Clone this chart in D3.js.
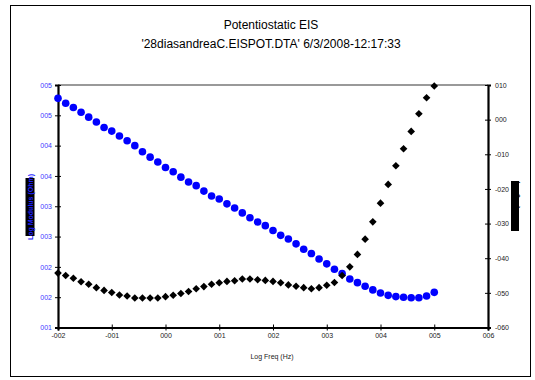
<!DOCTYPE html>
<html>
<head>
<meta charset="utf-8">
<script src="https://cdn.jsdelivr.net/npm/d3@7"></script>
<style>
  body { margin: 0; background: #fff; }
  text { font-family: "Liberation Sans", Arial, sans-serif; }
</style>
</head>
<body>
<svg id="chart" width="535" height="380"></svg>
<script>
// Bode data: log10 frequency, log10 |Z| and phase angle
const logFreq = [
  -2.000, -1.857, -1.714, -1.571, -1.429, -1.286, -1.143, -1.000, -0.857, -0.714,
  -0.571, -0.429, -0.286, -0.143,  0.000,  0.143,  0.286,  0.429,  0.571,  0.714,
   0.857,  1.000,  1.143,  1.286,  1.429,  1.571,  1.714,  1.857,  2.000,  2.143,
   2.286,  2.429,  2.571,  2.714,  2.857,  3.000,  3.143,  3.286,  3.429,  3.571,
   3.714,  3.857,  4.000,  4.143,  4.286,  4.429,  4.571,  4.714,  4.857,  5.000
];
const logModulus = [
  4.78, 4.70, 4.63, 4.55, 4.47, 4.39, 4.30, 4.24, 4.16, 4.08,
  4.00, 3.90, 3.81, 3.73, 3.64, 3.57, 3.48, 3.40, 3.34, 3.25,
  3.17, 3.12, 3.04, 2.97, 2.89, 2.81, 2.74, 2.68, 2.60, 2.52,
  2.46, 2.38, 2.29, 2.22, 2.13, 2.05, 1.96, 1.89, 1.80, 1.74,
  1.68, 1.62, 1.57, 1.53, 1.51, 1.50, 1.49, 1.49, 1.52, 1.58
];
const phase = [
  -44.3, -45.0, -45.8, -46.8, -47.5, -48.5, -49.3, -49.9, -50.6, -50.9,
  -51.5, -51.5, -51.5, -51.5, -51.1, -50.7, -50.2, -49.6, -48.8, -48.2,
  -47.5, -47.1, -46.7, -46.5, -46.0, -46.0, -46.2, -46.4, -46.7, -47.1,
  -47.7, -48.1, -48.5, -48.8, -48.5, -47.8, -47.0, -45.0, -42.5, -38.9,
  -34.5, -29.5, -24.1, -18.7, -13.3,  -8.4,  -3.4,   1.7,   6.3,   9.7
];

// Axis ticks and their printed labels
const xTicks = [-2, -1, 0, 1, 2, 3, 4, 5, 6];
const xTickLabels = ["-002", "-001", "000", "001", "002", "003", "004", "005", "006"];
const modTicks = [1, 1.5, 2, 2.5, 3, 3.5, 4, 4.5, 5];
const modTickLabels = ["001", "002", "002", "003", "003", "004", "004", "005", "005"];
const phaseTicks = [10, 0, -10, -20, -30, -40, -50, -60];
const phaseTickLabels = ["010", "000", "-010", "-020", "-030", "-040", "-050", "-060"];

const titleLines = ["Potentiostatic EIS", "'28diasandreaC.EISPOT.DTA' 6/3/2008-12:17:33"];
const xTitle = "Log Freq (Hz)";
const modTitle = "Log Modulus (Ohm)";
const phaseTitle = "Phase (degree)";

const svg = d3.select("#chart");
const plot = { left: 58, right: 488, top: 85, bottom: 327.5 };

// outer frame
svg.append("rect")
  .attr("x", 10.5).attr("y", 5.5)
  .attr("width", 520).attr("height", 371)
  .attr("fill", "#fff").attr("stroke", "#000").attr("stroke-width", 1);

// titles
svg.selectAll("text.title").data(titleLines).join("text")
  .attr("class", "title")
  .attr("x", 271).attr("y", (d, i) => 29 + i * 18.5)
  .attr("text-anchor", "middle")
  .attr("font-size", 12)
  .attr("fill", "#000")
  .text(d => d);

const x = d3.scaleLinear().domain([-2, 6]).range([plot.left, plot.right]);
const yMod = d3.scaleLinear().domain([1, 5]).range([plot.bottom, plot.top]);
const yPh = d3.scaleLinear().domain([-60, 10]).range([plot.bottom, plot.top]);

// top frame line
svg.append("line")
  .attr("x1", plot.left).attr("x2", plot.right)
  .attr("y1", plot.top).attr("y2", plot.top)
  .attr("stroke", "#777").attr("stroke-width", 1.5);

function styleAxis(g, color, labelColor, crossFrom, crossTo, horizontal) {
  g.select(".domain").attr("stroke", color).attr("stroke-width", 2.2);
  g.selectAll(".tick line").attr("stroke", color).attr("stroke-width", 1)
    .attr(horizontal ? "y1" : "x1", crossFrom).attr(horizontal ? "y2" : "x2", crossTo);
  g.selectAll(".tick text")
    .attr("font-family", "Liberation Sans, Arial, sans-serif")
    .attr("font-size", 7).attr("fill", labelColor);
}

// bottom axis
const gx = svg.append("g")
  .attr("transform", `translate(0,${plot.bottom})`)
  .call(d3.axisBottom(x).tickValues(xTicks)
    .tickFormat((d, i) => xTickLabels[i]).tickSizeOuter(0).tickSize(3).tickPadding(3));
styleAxis(gx, "#000", "#222", -3, 3, true);

// left axis (log modulus)
const gl = svg.append("g")
  .attr("transform", `translate(${plot.left},0)`)
  .call(d3.axisLeft(yMod).tickValues(modTicks)
    .tickFormat((d, i) => modTickLabels[i]).tickSizeOuter(0).tickSize(3).tickPadding(3));
styleAxis(gl, "#000", "#3b3bff", -3, 3, false);

// right axis (phase)
const gr = svg.append("g")
  .attr("transform", `translate(${plot.right},0)`)
  .call(d3.axisRight(yPh).tickValues(phaseTicks)
    .tickFormat((d, i) => phaseTickLabels[i]).tickSizeOuter(0).tickSize(3).tickPadding(4));
styleAxis(gr, "#000", "#222", -3, 3, false);

// axis titles
svg.append("text")
  .attr("x", 272).attr("y", 359)
  .attr("text-anchor", "middle")
  .attr("font-size", 7).attr("fill", "#222")
  .text(xTitle);

const lt = svg.append("g").attr("transform", "translate(30,207) rotate(-90)");
lt.append("rect").attr("x", -29).attr("y", -4.5).attr("width", 58).attr("height", 9).attr("fill", "#000");
lt.append("text").attr("x", 0).attr("y", 2.5)
  .attr("text-anchor", "middle").attr("font-size", 7).attr("font-weight", "bold")
  .attr("fill", "#2020ff").text(modTitle);

const rt = svg.append("g").attr("transform", "translate(515,206) rotate(-90)");
rt.append("rect").attr("x", -25).attr("y", -4).attr("width", 50).attr("height", 8).attr("fill", "#000");
rt.append("text").attr("x", 0).attr("y", 2.5)
  .attr("text-anchor", "middle").attr("font-size", 7).attr("font-weight", "bold")
  .attr("fill", "#000").text(phaseTitle);

// log modulus markers
const modData = logFreq.map((f, i) => ({ f, v: logModulus[i] }));
svg.append("g").selectAll("circle").data(modData).join("circle")
  .attr("cx", d => x(d.f)).attr("cy", d => yMod(d.v))
  .attr("r", 3.8).attr("fill", "#0000ff");

// phase markers
const phData = logFreq.map((f, i) => ({ f, v: phase[i] }));
const diamond = d3.symbol().type(d3.symbolSquare).size(29);
svg.append("g").selectAll("path").data(phData).join("path")
  .attr("transform", d => `translate(${x(d.f)},${yPh(d.v)}) rotate(45)`)
  .attr("d", diamond).attr("fill", "#000");
</script>
</body>
</html>
